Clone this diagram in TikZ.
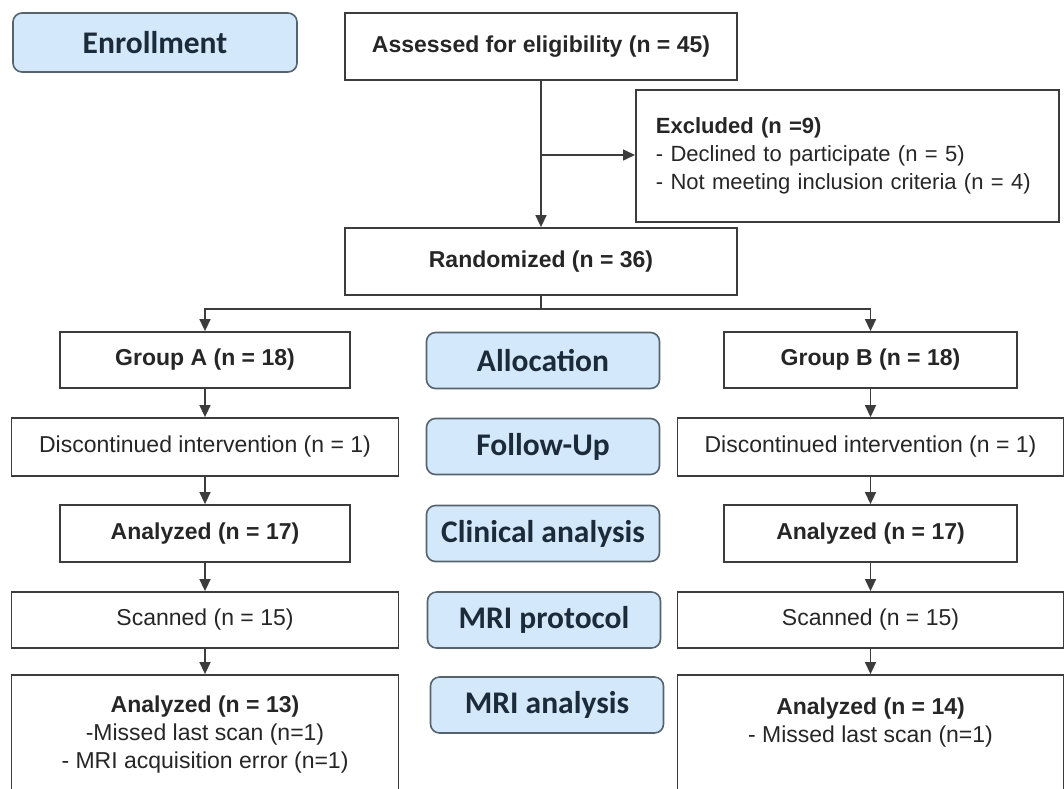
\documentclass[tikz,border=0pt]{standalone}
\usepackage{fontspec}
\setmainfont{Liberation Sans}
\newfontfamily\stagefont{Carlito}
\usepackage{tikz}
\usetikzlibrary{arrows.meta}

\definecolor{stageblue}{HTML}{D3E8FA}
\definecolor{stageline}{HTML}{56636F}
\definecolor{stagetext}{HTML}{1C2B3A}
\definecolor{boxline}{HTML}{3C3C3C}
\definecolor{boxtext}{HTML}{262626}

\begin{document}
\begin{tikzpicture}[x=1pt,y=1pt,yscale=-1,xscale=1,
    stage/.style={draw=stageline, fill=stageblue, rounded corners=9pt, line width=1.6pt,
        minimum width=233pt, minimum height=56pt, inner sep=0pt,
        font=\stagefont\bfseries\fontsize{31.5}{35}\selectfont, text=stagetext},
    wbox/.style={draw=boxline, fill=white, line width=1.8pt, inner sep=0pt, align=center,
        font=\fontsize{23}{28}\selectfont, text=boxtext},
    arr/.style={draw=boxline, line width=1.5pt, -{Triangle[length=12pt,width=11pt]}}
]
    \useasboundingbox (0,0) rectangle (1064,788);
    \clip (0,0) rectangle (1064,788);

    %Stage labels
    \node [stage, minimum width=284pt, minimum height=59pt] (enrol) at (155,42.5) {Enrollment};
    \node [stage] (alloc) at (543,360.5) {Allocation};
    \node [stage] (follow) at (543,446.5) {Follow-Up};
    \node [stage] (clin) at (543,533.5) {Clinical analysis};
    \node [stage] (mriprot) at (544,620) {MRI protocol};
    \node [stage] (mrian) at (547,705) {MRI analysis};

    % Text Node
    \node [wbox, minimum width=392pt, minimum height=67pt] (assessed) at (541,46.5) {\textbf{Assessed for eligibility (n = 45)}};
    % Text Node
    \node [wbox, anchor=north west, minimum height=132pt, text width=383pt, inner xsep=20pt, align=left,
        font=\fontsize{22}{28}\selectfont] (excluded) at (635,89)
        {\textbf{Excluded (n =9)}\\- Declined to participate (n = 5)\\- Not meeting inclusion criteria (n = 4)};
    % Text Node
    \node [wbox, minimum width=392pt, minimum height=67pt] (rand) at (541,261.5) {\textbf{Randomized (n = 36)}};

    %Group A column
    \node [wbox, minimum width=290pt, minimum height=56pt] (grpA) at (205,360) {\textbf{Group A (n = 18)}};
    \node [wbox, minimum width=387pt, minimum height=58pt] (discA) at (205,447) {Discontinued intervention (n = 1)};
    \node [wbox, minimum width=290pt, minimum height=57pt] (anaA) at (205,533.5) {\textbf{Analyzed (n = 17)}};
    \node [wbox, minimum width=387pt, minimum height=56pt] (scanA) at (205,620) {Scanned (n = 15)};
    \node [wbox, minimum width=387pt, minimum height=120pt] (mriA) at (205,735)
        {\textbf{Analyzed (n = 13)}\\-Missed last scan (n=1)\\- MRI acquisition error (n=1)};

    %Group B column
    \node [wbox, minimum width=293pt, minimum height=56pt] (grpB) at (870.5,360) {\textbf{Group B (n = 18)}};
    \node [wbox, minimum width=386pt, minimum height=58pt] (discB) at (870.5,447) {Discontinued intervention (n = 1)};
    \node [wbox, minimum width=293pt, minimum height=57pt] (anaB) at (870.5,533.5) {\textbf{Analyzed (n = 17)}};
    \node [wbox, minimum width=386pt, minimum height=56pt] (scanB) at (870.5,620) {Scanned (n = 15)};
    \node [wbox, minimum width=386pt, minimum height=126pt] (mriB) at (870.5,738)
        {\textbf{Analyzed (n = 14)}\\- Missed last scan (n=1)\\\strut};

    %Straight Lines
    \coordinate (exc) at (541,155);
    \draw [arr] (assessed) -- (rand);
    \draw [arr] (exc) -- (excluded.west |- exc);
    \draw [arr] (rand.south) -- ++(0,13) -| (grpA.north);
    \draw [arr] (rand.south) -- ++(0,13) -| (grpB.north);

    \draw [arr] (grpA) -- (discA);
    \draw [arr] (discA) -- (anaA);
    \draw [arr] (anaA) -- (scanA);
    \draw [arr] (scanA) -- (mriA);

    \draw [arr] (grpB) -- (discB);
    \draw [arr] (discB) -- (anaB);
    \draw [arr] (anaB) -- (scanB);
    \draw [arr] (scanB) -- (mriB);
\end{tikzpicture}
\end{document}
